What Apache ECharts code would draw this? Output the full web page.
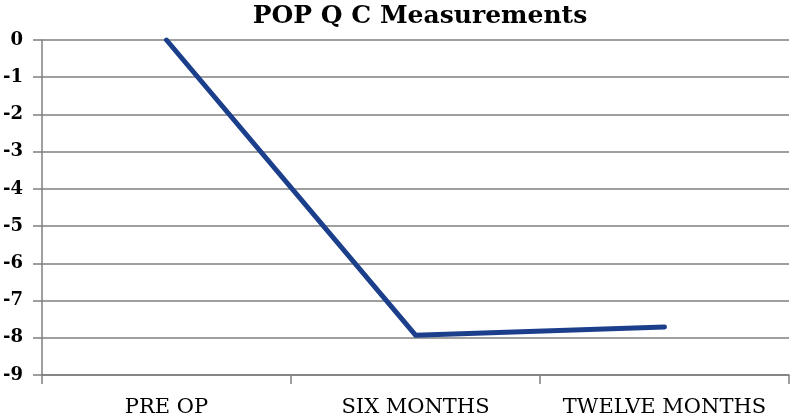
<!DOCTYPE html>
<html>
<head>
<meta charset="utf-8">
<script src="https://cdn.jsdelivr.net/npm/echarts@6/dist/echarts.min.js"></script>
<style>
  html, body { margin: 0; padding: 0; background: #fff; }
  #chart { width: 792px; height: 418px; }
</style>
</head>
<body>
<div id="chart"></div>
<script>
// chart data
const categories = ['PRE OP', 'SIX MONTHS', 'TWELVE MONTHS']
const popqValues = [0, -7.93, -7.71]

const chart = echarts.init(document.getElementById('chart'))

const serif = '"DejaVu Serif", "Liberation Serif", serif'

chart.setOption({
  animation: false,
  title: {
    text: 'POP Q C Measurements',
    left: 415,
    textAlign: 'center',
    top: -1,
    textStyle: { fontFamily: serif, fontWeight: 'bold', fontSize: 25, color: '#000' }
  },
  grid: { left: 41, right: 3, top: 40, bottom: 42 },
  xAxis: {
    type: 'category',
    data: categories,
    boundaryGap: true,
    axisLine: { onZero: false, lineStyle: { color: '#7f7f7f', width: 1.5 } },
    axisTick: { show: true, interval: 0, length: 9, lineStyle: { color: '#7f7f7f', width: 1.5 } },
    axisLabel: {
      interval: 0,
      margin: 22,
      fontFamily: serif,
      fontSize: 21,
      color: '#000'
    }
  },
  yAxis: {
    type: 'value',
    min: -9,
    max: 0,
    interval: 1,
    axisLine: { show: true, lineStyle: { color: '#7f7f7f', width: 1.5 } },
    axisTick: { show: true, length: 9, lineStyle: { color: '#7f7f7f', width: 1.5 } },
    splitLine: { lineStyle: { color: '#7f7f7f', width: 1.5 } },
    axisLabel: {
      margin: 19,
      fontFamily: serif,
      fontWeight: 'bold',
      fontSize: 18,
      color: '#000'
    }
  },
  series: [{
    name: 'POP Q C',
    type: 'line',
    data: popqValues,
    showSymbol: false,
    symbol: 'none',
    lineStyle: { color: '#1c3f8c', width: 5, cap: 'round', join: 'round' }
  }]
})
</script>
</body>
</html>
